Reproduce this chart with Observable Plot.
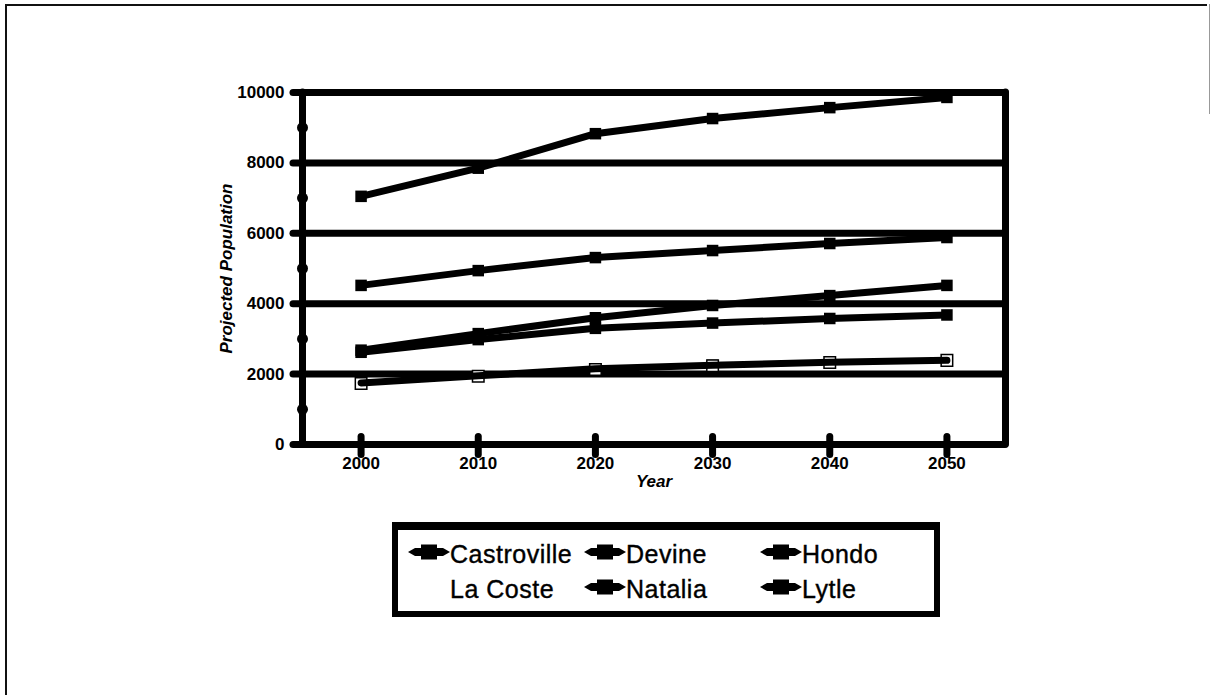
<!DOCTYPE html>
<html>
<head>
<meta charset="utf-8">
<script src="https://cdn.jsdelivr.net/npm/d3@7"></script>
<script src="https://cdn.jsdelivr.net/npm/@observablehq/plot@0.6"></script>
<style>
  html, body { margin: 0; padding: 0; background: #fff; }
  #wrap { position: relative; width: 1211px; height: 695px; overflow: hidden; font-family: "Liberation Sans", Arial, sans-serif; }
  #chart { position: absolute; left: 0; top: 0; }
  #frameL { position: absolute; left: 5px; top: 4px; width: 1200px; height: 700px; border-left: 2px solid #111; border-top: 2px solid #111; }
  #frameR { position: absolute; left: 1209px; top: 4px; width: 0; height: 110px; border-left: 1px solid #999; }
  #legend { position: absolute; left: 392px; top: 522px; width: 548px; height: 95px; border: 6px solid #000; border-top-width: 8px; box-sizing: border-box; background: #fff; }
  .entry { position: absolute; height: 35px; line-height: 35px; font-size: 25px; letter-spacing: 0.5px; color: #000; white-space: nowrap; -webkit-text-stroke: 0.4px #000; }
  .entry svg { position: absolute; left: 0; top: 5px; }
  .entry span { position: absolute; left: 43px; top: 0; }
</style>
</head>
<body>
<div id="wrap">
  <div id="chart"></div>
  <div id="frameL"></div>
  <div id="frameR"></div>
  <div id="legend"></div>
</div>
<script>
// ---- data ----
const years = [2000, 2010, 2020, 2030, 2040, 2050];
const cities = ["Castroville", "Devine", "Hondo", "La Coste", "Natalia", "Lytle"];
const castroville = [2680, 3150, 3600, 3950, 4230, 4520];
const devine      = [4520, 4940, 5310, 5510, 5710, 5880];
const hondo       = [7050, 7850, 8830, 9260, 9570, 9860];
const laCoste     = [1730, 1940, 2130, 2240, 2330, 2390];
const natalia     = [1750, 1950, 2150, 2250, 2340, 2390];
const lytle       = [2620, 2980, 3300, 3450, 3580, 3680];
const yMajorTicks = [0, 2000, 4000, 6000, 8000, 10000];
const yMinorTicks = [1000, 3000, 5000, 7000, 9000];
const xLabel = "Year";
const yLabel = "Projected Population";

const seriesValues = [castroville, devine, hondo, laCoste, natalia, lytle];
const table = cities.flatMap((c, k) => years.map((yr, i) => ({city: c, year: yr, value: seriesValues[k][i]})));
const hollow = table.filter(d => d.city === "La Coste");
const solid = table.filter(d => d.city !== "La Coste");

// vertical capsule tick symbol for the x axis
const vCapsule = {
  draw(ctx) {
    const w = 3.5;
    ctx.moveTo(w, -8);
    ctx.arc(0, -8, w, 0, Math.PI, true);
    ctx.lineTo(-w, 10);
    ctx.arc(0, 10, w, Math.PI, 0, true);
    ctx.closePath();
  }
};

const chart = Plot.plot({
  width: 1211,
  height: 695,
  marginLeft: 302,
  marginRight: 206,
  marginTop: 92,
  marginBottom: 251,
  x: {domain: [1995, 2055]},
  y: {domain: [0, 10000]},
  style: {fontFamily: "'Liberation Sans', Arial, sans-serif", background: "transparent", color: "#000"},
  marks: [
    Plot.ruleY(yMajorTicks, {y: d => d, stroke: "#000", strokeWidth: 7, insetLeft: -9, strokeLinecap: "round"}),
    Plot.ruleX([1995, 2055], {x: d => d, stroke: "#000", strokeWidth: 7, strokeLinecap: "round"}),
    Plot.dot(yMinorTicks, {y: d => d, frameAnchor: "left", r: 5.5, fill: "#000"}),
    Plot.dot(years, {x: d => d, frameAnchor: "bottom", symbol: vCapsule, fill: "#000"}),
    Plot.dot(solid, {x: "year", y: "value", symbol: "square", r: 6.5, fill: "#000"}),
    Plot.dot(hollow, {x: "year", y: "value", symbol: "square", r: 6.5, fill: "#fff", stroke: "#000", strokeWidth: 1.5}),
    Plot.line(solid, {x: "year", y: "value", z: "city", stroke: "#000", strokeWidth: 7}),
    Plot.axisY({ticks: yMajorTicks, tickSize: 0, tickPadding: 18, tickFormat: d => String(d), fontSize: 17, fontWeight: "bold", label: null}),
    Plot.axisY({ticks: [], tickSize: 0, label: yLabel, labelAnchor: "center", labelOffset: 83, labelArrow: "none", fontSize: 17, fontWeight: "bold", fontStyle: "italic"}),
    Plot.axisX({ticks: years, tickSize: 0, tickPadding: 12, tickFormat: d => String(d), fontSize: 17, fontWeight: "bold", label: null}),
    Plot.axisX({ticks: [], tickSize: 0, label: xLabel, labelAnchor: "center", labelOffset: 42, labelArrow: "none", fontSize: 17, fontWeight: "bold", fontStyle: "italic"})
  ]
});
document.getElementById("chart").appendChild(chart);

// ---- legend ----
const legend = document.getElementById("legend");
cities.forEach((c, i) => {
  const col = i % 3, row = Math.floor(i / 3);
  const e = document.createElement("div");
  e.className = "entry";
  e.style.left = (9 + col * 176) + "px";
  e.style.top = (7 + row * 35) + "px";
  if (c !== "La Coste") {
    const ns = "http://www.w3.org/2000/svg";
    const s = document.createElementNS(ns, "svg");
    s.setAttribute("width", 44); s.setAttribute("height", 20);
    const p = document.createElementNS(ns, "path");
    p.setAttribute("d", "M1,10 L8,6 L36,6 L43,10 L36,14 L8,14 Z");
    p.setAttribute("fill", "#000");
    const r = document.createElementNS(ns, "rect");
    r.setAttribute("x", 14); r.setAttribute("y", 2.5); r.setAttribute("width", 16); r.setAttribute("height", 15);
    r.setAttribute("fill", "#000");
    s.appendChild(p); s.appendChild(r);
    e.appendChild(s);
  }
  const t = document.createElement("span");
  t.textContent = c;
  e.appendChild(t);
  legend.appendChild(e);
});
</script>
</body>
</html>
